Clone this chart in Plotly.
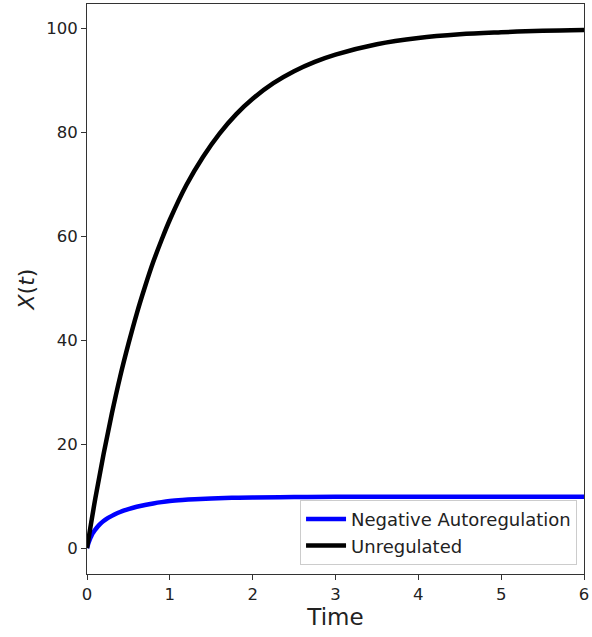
import plotly.graph_objects as go

# Time points and values
t_unreg = [0, 0.1, 0.2, 0.3, 0.4, 0.5, 0.6, 0.7, 0.8, 0.9, 1.0, 1.2, 1.4, 1.6, 1.8,
           2.0, 2.25, 2.5, 2.75, 3.0, 3.5, 4.0, 4.5, 5.0, 5.5, 6.0]
x_unreg = [0, 9.5, 18.1, 25.9, 33.0, 39.3, 45.1, 50.3, 55.1, 59.3, 63.2, 69.9, 75.3,
           79.8, 83.5, 86.5, 89.5, 91.8, 93.6, 95.0, 97.0, 98.2, 98.9, 99.3, 99.6, 99.75]

t_nar = [0, 0.01, 0.02, 0.04, 0.06, 0.08, 0.1, 0.13, 0.16, 0.2, 0.25, 0.3, 0.35, 0.4,
         0.45, 0.5, 0.6, 0.7, 0.8, 0.9, 1.0, 1.15, 1.3, 1.5, 1.75, 2.0, 2.5, 3.0,
         4.0, 5.0, 6.0]
x_nar = [0, 0.55, 1.05, 1.9, 2.6, 3.1, 3.55, 4.15, 4.65, 5.2, 5.75, 6.2, 6.6, 6.95,
         7.25, 7.5, 7.95, 8.3, 8.6, 8.85, 9.05, 9.25, 9.4, 9.55, 9.68, 9.75, 9.83, 9.87,
         9.9, 9.9, 9.9]

x_ticks = [0, 1, 2, 3, 4, 5, 6]
y_ticks = [0, 20, 40, 60, 80, 100]

fig = go.Figure()
fig.add_trace(go.Scatter(x=t_nar, y=x_nar, mode="lines", name="Negative Autoregulation",
                         line=dict(color="#0000ff", width=4.5, shape="spline")))
fig.add_trace(go.Scatter(x=t_unreg, y=x_unreg, mode="lines", name="Unregulated",
                         line=dict(color="#000000", width=4.5, shape="spline")))

axis_common = dict(showgrid=False, zeroline=False, showline=True, linecolor="#333333",
                   linewidth=1, mirror=True, ticks="outside", ticklen=5, tickwidth=1,
                   tickcolor="#333333", tickfont=dict(size=16.5, color="#222222"))

fig.update_layout(
    width=592, height=637,
    margin=dict(l=87, r=6, t=3, b=63),
    paper_bgcolor="white", plot_bgcolor="white",
    font=dict(family="DejaVu Sans", color="#222222"),
    xaxis=dict(range=[0, 6], tickvals=x_ticks,
               title=dict(text="Time", font=dict(size=23), standoff=6), **axis_common),
    yaxis=dict(range=[-4.99, 104.74], tickvals=y_ticks,
               title=dict(text="<i>X</i>(<i>t</i>)", font=dict(size=22), standoff=5),
               **axis_common),
    legend=dict(x=0.986, y=0.016, xanchor="right", yanchor="bottom",
                bgcolor="rgba(255,255,255,0.85)", bordercolor="#cccccc", borderwidth=1,
                font=dict(size=18, color="#222222"), tracegroupgap=0, itemwidth=40),
    showlegend=True,
)

fig.write_html("out.html")
